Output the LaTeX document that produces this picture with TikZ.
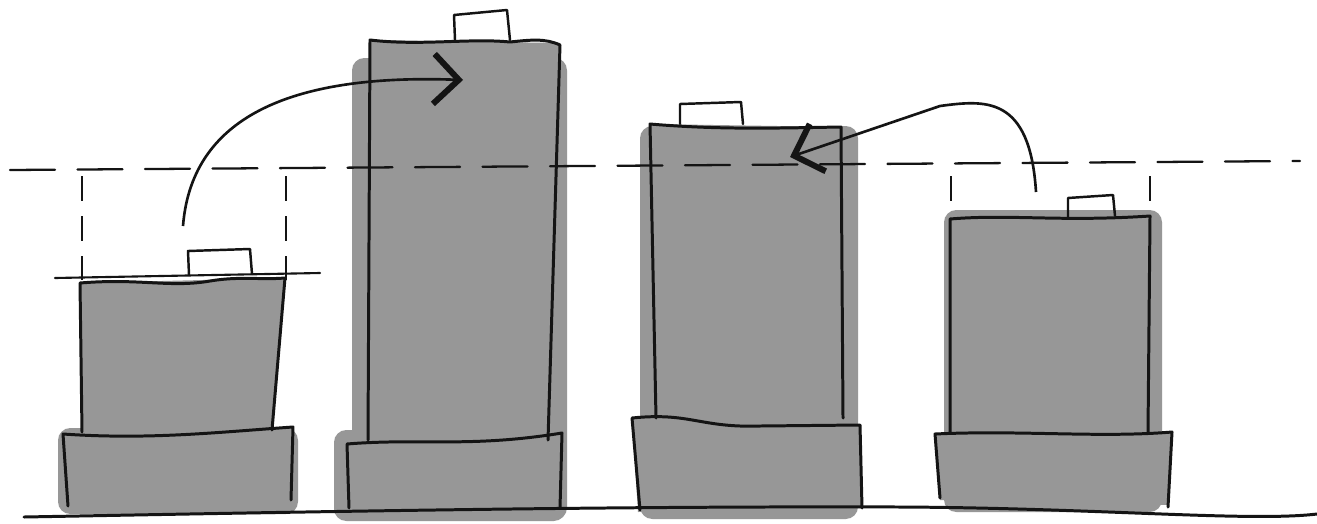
\documentclass[tikz,border=0pt]{standalone}
\usepackage{tikz}
\usetikzlibrary{arrows.meta}
\definecolor{slab}{HTML}{979797}
\definecolor{slabdark}{HTML}{878787}
\definecolor{ink}{HTML}{141414}

\begin{document}
\begin{tikzpicture}[x=0.2mm, y=-0.2mm,
  wall/.style={draw=ink, line width=1.7pt, line join=round, line cap=round},
  halo/.style={fill=slab, rounded corners=7pt},
  mass/.style={fill=slab},
  roofbox/.style={wall, line width=1.4pt},
  ghost/.style={draw=ink, line width=1.3pt, dash pattern=on 5mm off 3mm},
  level/.style={draw=ink, line width=1.3pt, line cap=round, dash pattern=on 9mm off 4.5mm},
  arr/.style={draw=ink, line width=1.5pt, -{Straight Barb[length=5mm, width=10mm, line width=3.4pt]}}]
  \useasboundingbox (0,0) rectangle (1317,523);
  \fill[white] (0,0) rectangle (1317,523);
  % shadows
  \fill[halo] (58,428) rectangle (298,514);
  \fill[halo] (352,58) rectangle (567,520);
  \fill[halo] (334,430) rectangle (566,521);
  \fill[halo] (640,126) rectangle (858,519);
  \fill[halo] (944,210) rectangle (1162,512);
  \fill[slabdark, rounded corners=6pt] (85,424) rectangle (275,440);
  \fill[slabdark, rounded corners=6pt] (372,428) rectangle (548,446);
  % building 1
  \fill[mass] (80,283) -- (285,278) -- (272,432) -- (82,434) -- cycle;
  \fill[mass] (63,434) -- (293,427) -- (291,508) -- (68,511) -- cycle;
  \draw[wall] (82,432) -- (80,283) .. controls (140,278) and (170,288) .. (210,281) .. controls (240,276) and (260,280) .. (285,278) -- (272,430);
  \draw[wall] (68,506) -- (63,434) .. controls (150,440) and (220,432) .. (293,427) -- (291,500);
  \draw[roofbox] (189,275) -- (188,251) -- (250,249) -- (252,274);
  \draw[ghost] (82,176) -- (82,280);
  \draw[ghost] (286,176) -- (286,280);
  \draw[wall, line width=1.2pt] (55,278) -- (320,273);
  % building 2
  \fill[mass] (370,40) -- (560,43) -- (548,440) -- (368,442) -- cycle;
  \fill[mass] (347,444) -- (562,433) -- (560,508) -- (349,510) -- cycle;
  \draw[wall] (368,440) -- (370,40) .. controls (420,46) and (470,38) .. (510,42) .. controls (530,40) and (545,38) .. (560,45) -- (548,440);
  \draw[wall] (349,508) -- (347,444) .. controls (420,438) and (470,448) .. (562,433) -- (560,508);
  \draw[roofbox] (455,40) -- (454,15) -- (507,10) -- (510,40);
  % building 3
  \fill[mass] (650,124) -- (841,127) -- (843,418) -- (656,420) -- cycle;
  \fill[mass] (632,418) -- (860,425) -- (862,508) -- (638,512) -- cycle;
  \draw[wall] (656,418) -- (650,124) .. controls (720,130) and (780,128) .. (841,127) -- (843,418);
  \draw[wall] (640,510) -- (632,418) .. controls (690,412) and (700,428) .. (760,426) -- (860,425) -- (862,508);
  \draw[roofbox] (680,124) -- (680,104) -- (741,102) -- (743,124);
  % building 4
  \fill[mass] (950,219) -- (1150,216) -- (1147,432) -- (952,432) -- cycle;
  \fill[mass] (935,434) -- (1172,432) -- (1168,505) -- (940,500) -- cycle;
  \draw[wall] (950,432) -- (950,219) .. controls (1010,214) and (1060,222) .. (1150,216) -- (1148,432);
  \draw[wall] (940,498) -- (935,434) .. controls (1020,430) and (1100,438) .. (1172,432) -- (1168,507);
  \draw[roofbox] (1068,218) -- (1068,198) -- (1113,195) -- (1115,216);
  \draw[ghost] (951,176) -- (951,214);
  \draw[ghost] (1150,176) -- (1150,214);
  % ground and level
  \draw[wall] (24,517) .. controls (300,512) and (600,506) .. (900,507) .. controls (1100,508) and (1250,522) .. (1317,514);
  \draw[level] (10,170) -- (1300,161);
  % moves
  \coordinate (lift1) at (183,226);
  \coordinate (top2) at (463,80);
  \coordinate (lift4) at (1036,192);
  \coordinate (top3) at (790,157);
  \draw[arr] (lift1) .. controls (192,112) and (300,74) .. (top2);
  \draw[arr] (lift4) .. controls (1030,95) and (985,100) .. (940,106) -- (top3);
\end{tikzpicture}
\end{document}
